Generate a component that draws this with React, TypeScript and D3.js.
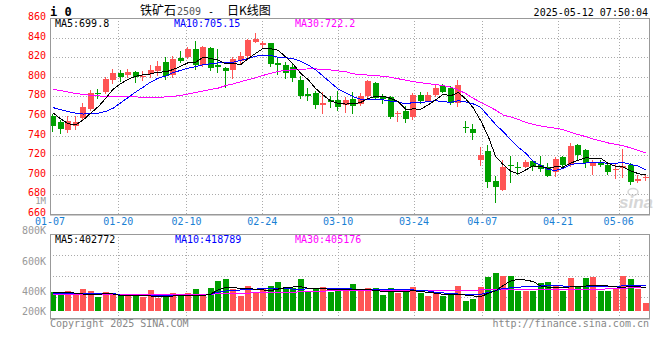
import * as d3 from "d3";

// 日K数据 (01-07 ~ 05-12)
const dates = [
  "01-07", "01-08", "01-09", "01-10", "01-13", "01-14", "01-15", "01-16", "01-17", "01-20",
  "01-21", "01-22", "01-23", "01-24", "01-27", "02-05", "02-06", "02-07", "02-10", "02-11",
  "02-12", "02-13", "02-14", "02-17", "02-18", "02-19", "02-20", "02-21", "02-24", "02-25",
  "02-26", "02-27", "02-28", "03-03", "03-04", "03-05", "03-06", "03-07", "03-10", "03-11",
  "03-12", "03-13", "03-14", "03-17", "03-18", "03-19", "03-20", "03-21", "03-24", "03-25",
  "03-26", "03-27", "03-28", "03-31", "04-01", "04-02", "04-03", "04-07", "04-08", "04-09",
  "04-10", "04-11", "04-14", "04-15", "04-16", "04-17", "04-18", "04-21", "04-22", "04-23",
  "04-24", "04-25", "04-28", "04-29", "04-30", "05-06", "05-07", "05-08", "05-09", "05-12",
];

const open = [
  760, 754, 746, 750, 758, 767, 783, 784, 797, 804,
  802, 805, 800, 803, 806, 815, 802, 819, 820, 828,
  812, 829, 812, 809, 807, 816, 821, 836, 832, 834,
  814, 812, 810, 797, 782, 783, 771, 776, 776, 771,
  777, 772, 780, 794, 779, 779, 762, 765, 759, 781,
  775, 781, 791, 789, 773, 749, 747, 715, 724, 694,
  685, 710, 708, 708, 714, 710, 708, 703, 718, 710,
  730, 725, 709, 712, 710, 705, 707, 710, 694, 697,
];
const high = [
  762, 756, 760, 760, 773, 787, 788, 800, 808, 807,
  808, 806, 806, 812, 816, 820, 821, 826, 830, 837,
  831, 830, 828, 810, 820, 825, 839, 845, 837, 835,
  820, 815, 814, 801, 789, 786, 785, 780, 786, 779,
  785, 783, 797, 795, 782, 780, 765, 770, 783, 785,
  785, 793, 793, 791, 797, 755, 752, 728, 730, 699,
  715, 719, 713, 715, 715, 719, 712, 718, 719, 732,
  731, 726, 715, 715, 712, 711, 726, 712, 700, 701,
];
const low = [
  744, 742, 743, 746, 756, 765, 777, 782, 793, 795,
  799, 794, 796, 799, 801, 797, 799, 814, 818, 807,
  810, 806, 804, 789, 798, 813, 819, 835, 829, 810,
  802, 798, 795, 777, 775, 767, 762, 768, 765, 763,
  762, 770, 778, 777, 772, 757, 754, 753, 756, 772,
  774, 779, 783, 771, 769, 743, 736, 709, 687, 671,
  683, 692, 700, 707, 704, 703, 698, 698, 707, 708,
  715, 707, 700, 708, 700, 696, 697, 690, 692, 694,
];
const close = [
  750, 747, 755, 754, 769, 783, 782, 798, 804, 800,
  805, 800, 801, 807, 811, 801, 818, 816, 828, 812,
  830, 809, 810, 806, 818, 821, 838, 839, 834, 813,
  812, 804, 799, 780, 780, 771, 773, 774, 769, 776,
  770, 780, 796, 778, 777, 759, 763, 757, 781, 775,
  781, 789, 785, 773, 792, 748, 743, 720, 693, 688,
  708, 709, 707, 713, 708, 706, 699, 716, 710, 729,
  720, 712, 713, 710, 703, 706, 709, 693, 696, 698,
];

const ma5 = [
  763, 757, 752, 751, 756, 763, 769.5, 778, 787.5, 793,
  797.5, 800.5, 802, 803, 804.8, 805, 807.5, 810.7, 814.5, 815,
  820, 818.7, 817, 813.3, 813.5, 812.5, 818.7, 824, 829, 828.7,
  827, 820.2, 812.7, 803.5, 797, 788, 781.3, 775.4, 773, 772.2,
  772.4, 773.8, 778, 780, 780.2, 778, 774.6, 766.8, 767.2, 767,
  771.4, 776.6, 782.2, 780.6, 784, 777.4, 768.2, 755.2, 739.2, 718.4,
  710.4, 703.6, 701, 705, 709, 708.6, 706.6, 708.4, 707.8, 712,
  714.8, 717.4, 716.8, 716.8, 711.6, 708.6, 708, 704, 701.2, 699.8,
];
const ma10 = [
  768.5, 766.5, 764.5, 762.8, 762, 762.2, 762.8, 764.7, 768, 773.5,
  779, 784.5, 789.5, 794.7, 798.6, 800.8, 804.3, 806.6, 808.8, 810.4,
  812.4, 813.3, 814.2, 814.1, 814.8, 816.8, 818.8, 821.1, 821.7, 821.8,
  820, 819.5, 818.4, 815.8, 812, 807, 800.5, 794, 787.5, 783.8,
  779.6, 777.2, 776.9, 776.7, 776.4, 775.2, 774.2, 772.5, 773.7, 773.6,
  774.7, 775.6, 774.5, 774, 775.5, 774.4, 772.4, 768.7, 759.9, 751.2,
  743.9, 735.9, 728.1, 722.1, 713.7, 709.5, 705.1, 704.7, 706.4, 710.5,
  711.7, 712, 712.6, 712.3, 711.8, 711.7, 712.7, 710.4, 709, 705.15,
];
const ma30 = [
  787, 786, 784.5, 783, 782, 781, 780.5, 780, 780, 780,
  780, 779.5, 779, 779, 779, 779.5, 780, 781, 782.5, 784,
  785.5, 787.2, 788.5, 791, 792.8, 795, 797, 799, 801.5, 803.5,
  805.5, 806.5, 807.3, 807.8, 808, 808, 807.7, 807, 806, 805.2,
  803, 802.3, 801.7, 801.2, 800.5, 799.5, 798, 796.5, 795, 794,
  793, 792, 791, 789.5, 786.5, 783, 778, 774, 770, 766,
  761, 759, 756.5, 753.5, 751.5, 749.8, 748.5, 747.5, 746, 743.5,
  741, 739, 736.5, 734.5, 732.5, 731, 729.5, 727.5, 725, 722.2,
];

// 成交量 (单位: 千手)
const volume = [
  375, 369, 380, 353, 393, 380, 342, 375, 358, 351,
  347, 353, 342, 387, 335, 353, 367, 353, 367, 393,
  353, 398, 449, 460, 393, 347, 413, 375, 391, 413,
  440, 405, 398, 460, 382, 395, 405, 375, 391, 387,
  427, 391, 398, 398, 353, 398, 365, 382, 405, 365,
  347, 375, 347, 365, 413, 313, 327, 405, 471, 500,
  480, 480, 382, 382, 382, 435, 442, 420, 382, 465,
  405, 465, 471, 382, 382, 398, 480, 458, 391, 298,
];
const volMa5 = [
  371, 371, 371, 365, 360, 358, 358, 362, 360, 349,
  349, 347, 347, 347, 342, 342, 347, 347, 349, 349,
  349, 360, 387, 403, 402, 398, 397, 391, 387, 383,
  393, 403, 407, 409, 398, 398, 397, 390, 387, 390,
  391, 391, 391, 383, 377, 375, 375, 377, 382, 377,
  371, 365, 358, 358, 357, 353, 347, 342, 365, 382,
  417, 447, 458, 453, 443, 413, 405, 405, 405, 407,
  409, 413, 420, 417, 413, 407, 405, 410, 409, 403,
];
const volMa10 = [
  365, 365, 365, 365, 365, 365, 365, 365, 365, 351,
  351, 351, 351, 351, 351, 351, 351, 351, 351, 351,
  351, 358, 373, 380, 383, 387, 390, 393, 395, 398,
  397, 395, 393, 391, 395, 398, 398, 398, 398, 395,
  393, 391, 390, 389, 387, 387, 387, 387, 387, 383,
  380, 371, 367, 363, 360, 360, 359, 358, 370, 383,
  397, 401, 405, 409, 411, 413, 418, 418, 413, 413,
  413, 411, 409, 408, 409, 411, 414, 416, 417, 419,
];
const volMa30 = [
  355, 355, 355, 355, 355, 355, 355, 355, 355, 355,
  355, 355, 355, 355, 355, 355, 355, 355, 355, 355,
  355, 358, 363, 366, 366, 366, 366, 369, 372, 372,
  372, 372, 372, 375, 378, 378, 378, 383, 383, 383,
  386, 386, 386, 386, 386, 386, 386, 386, 386, 386,
  386, 386, 383, 383, 383, 383, 383, 388, 388, 388,
  388, 391, 391, 391, 391, 391, 391, 391, 391, 391,
  391, 390, 390, 390, 396, 396, 396, 402, 403, 405,
];

const priceTicks = [660, 680, 700, 720, 740, 760, 780, 800, 820, 840, 860];
const volTicks = [200, 400, 600, 800];
const dateTicks = ["01-07", "01-20", "02-10", "02-24", "03-10", "03-24", "04-07", "04-21", "05-06"];

const RED = "#ff5555";
const GREEN = "#00a000";
const MONO = "'DejaVu Sans Mono', monospace";
const CJK = "'Noto Sans CJK SC', sans-serif";

const left = 50;
const right = 649;
const priceTop = 18;
const priceBottom = 214;
const volTop = 234;
const volBottom = 318;
const volBase = 311;

export default function App() {
  const n = close.length;
  const idx = d3.range(n);

  // K线位置 & 日期网格用两套刻度 (新浪图表本身就有这点偏差)
  const xBand = d3.scaleBand<number>().domain(idx).range([left - 0.5, right + 0.5]);
  const xGrid = d3.scalePoint<number>().domain(idx).range([left, right]);
  const yPrice = d3.scaleLinear().domain([660, 860]).range([priceBottom, priceTop]);
  const yVol = d3.scaleLinear().domain([246.7, 760]).range([volBase, volTop]);

  const cx = (i: number) => (xBand(i) || 0) + xBand.bandwidth() / 2;
  const bodyX = (i: number) => Math.round(cx(i) - 3);

  const priceLine = (arr: number[]) =>
    d3.line<number>().x((_, i) => cx(i)).y((v) => yPrice(v))(arr) || "";
  const volLine = (arr: number[]) =>
    d3.line<number>().x((_, i) => cx(i)).y((v) => yVol(v))(arr) || "";

  const gridIdx = dateTicks.map((d) => dates.indexOf(d));
  const volGrid = [0.25, 0.5, 0.75].map((f) => Math.round(volTop + (volBottom - volTop) * f) + 0.5);

  const grid = { stroke: "#aaa", strokeWidth: 1, strokeDasharray: "1 2" };

  return (
    <svg
      width={660}
      height={360}
      style={{ position: "absolute", left: 0, top: 0, background: "#fff" }}
      fontFamily={MONO}
      fontSize={10}
    >
      <defs>
        <clipPath id="price-clip">
          <rect x={left} y={priceTop} width={right - left} height={priceBottom - priceTop} />
        </clipPath>
        <clipPath id="vol-clip">
          <rect x={left} y={volTop} width={right - left} height={volBottom - volTop} />
        </clipPath>
      </defs>

      {/* 标题 */}
      <text x={50} y={16} fontWeight="bold" fontSize={12}>i 0</text>
      <text x={140} y={15} fontFamily={CJK} fontSize={12}>铁矿石</text>
      <text x={177} y={15} fill="#555" fontSize={10}>2509</text>
      <text x={208} y={15}>-</text>
      <text x={227} y={15} fontFamily={CJK} fontSize={12}>日K线图</text>
      <text x={648} y={15.5} textAnchor="end">2025-05-12 07:50:04</text>

      {/* 价格网格 */}
      {priceTicks.slice(1, -1).map((t) => (
        <line key={t} x1={left} x2={right} y1={Math.round(yPrice(t)) + 0.5} y2={Math.round(yPrice(t)) + 0.5} {...grid} />
      ))}
      {gridIdx.slice(1).map((i) => (
        <g key={i}>
          <line x1={Math.round(xGrid(i) || 0) + 0.5} x2={Math.round(xGrid(i) || 0) + 0.5} y1={priceTop} y2={priceBottom} {...grid} />
          <line x1={Math.round(xGrid(i) || 0) + 0.5} x2={Math.round(xGrid(i) || 0) + 0.5} y1={volTop} y2={volBottom} {...grid} />
        </g>
      ))}
      {volGrid.map((y) => (
        <line key={y} x1={left} x2={right} y1={y} y2={y} {...grid} />
      ))}

      {/* K线 */}
      <g clipPath="url(#price-clip)">
        {idx.map((i) => {
          const up = close[i] >= open[i];
          const color = up ? RED : GREEN;
          const top = Math.round(yPrice(Math.max(open[i], close[i])));
          const bot = Math.round(yPrice(Math.min(open[i], close[i])));
          const x = bodyX(i);
          return (
            <g key={i}>
              <line x1={x + 2.5} x2={x + 2.5} y1={Math.round(yPrice(high[i]))} y2={Math.round(yPrice(low[i]))} stroke={color} />
              <rect x={x} y={top} width={6} height={Math.max(1, bot - top)} fill={color} />
            </g>
          );
        })}
        <path d={priceLine(ma30)} fill="none" stroke="#ff00ff" shapeRendering="crispEdges" />
        <path d={priceLine(ma10)} fill="none" stroke="#0000ff" shapeRendering="crispEdges" />
        <path d={priceLine(ma5)} fill="none" stroke="#000" shapeRendering="crispEdges" />
      </g>

      {/* 水印 */}
      <g opacity={0.6}>
        <ellipse cx={633} cy={192} rx={5} ry={3.5} fill="none" stroke="#bbb" strokeWidth={1.5} />
        <text x={619} y={208} fontFamily="'Liberation Sans', sans-serif" fontStyle="italic" fontWeight="bold" fontSize={17} fill="#bbb">
          sina
        </text>
      </g>

      {/* 均线说明 */}
      <text x={55} y={27} fill="#000">MA5:699.8</text>
      <text x={174} y={27} fill="#0000ff">MA10:705.15</text>
      <text x={295} y={27} fill="#ff00ff">MA30:722.2</text>

      {/* 价格边框 */}
      <rect x={left + 0.5} y={priceTop + 0.5} width={right - left} height={priceBottom - priceTop} fill="none" stroke="#999" />
      <line x1={left} x2={right + 1} y1={priceBottom + 1} y2={priceBottom + 1} stroke="#999" />

      {/* 价格刻度 */}
      {priceTicks.map((t) => (
        <text key={t} x={46} y={yPrice(t) + 2} textAnchor="end" fill="#f00">
          {t}
        </text>
      ))}
      <text x={46} y={204} textAnchor="end" fill="#999" fontSize={9}>1M</text>

      {/* 日期 */}
      {gridIdx.map((i) => (
        <text key={i} x={xGrid(i)} y={225} textAnchor="middle" fill="#1a80d4">
          {dates[i]}
        </text>
      ))}

      {/* 成交量 */}
      <g clipPath="url(#vol-clip)">
        {idx.map((i) => {
          const up = close[i] >= open[i];
          const top = Math.round(yVol(volume[i]));
          return <rect key={i} x={bodyX(i)} y={top} width={6} height={volBase - top} fill={up ? RED : GREEN} />;
        })}
        <path d={volLine(volMa30)} fill="none" stroke="#ff00ff" shapeRendering="crispEdges" />
        <path d={volLine(volMa10)} fill="none" stroke="#0000ff" shapeRendering="crispEdges" />
        <path d={volLine(volMa5)} fill="none" stroke="#000" shapeRendering="crispEdges" />
      </g>
      <rect x={left + 0.5} y={volTop + 0.5} width={right - left} height={volBottom - volTop} fill="none" stroke="#999" />
      <line x1={left} x2={right + 1} y1={volBottom + 1} y2={volBottom + 1} stroke="#999" />

      <text x={55} y={242.5} fill="#000">MA5:402772</text>
      <text x={175} y={242.5} fill="#0000ff">MA10:418789</text>
      <text x={295} y={242.5} fill="#ff00ff">MA30:405176</text>

      {volTicks.map((t) => (
        <text key={t} x={46} y={Math.min(yVol(t) + 6.5, volBottom - 3)} textAnchor="end" fill="#999">
          {t}K
        </text>
      ))}

      {/* 版权 */}
      <text x={50} y={327} fill="#888">Copyright 2025 SINA.COM</text>
      <text x={649} y={327} textAnchor="end" fill="#888">http://finance.sina.com.cn</text>
    </svg>
  );
}
